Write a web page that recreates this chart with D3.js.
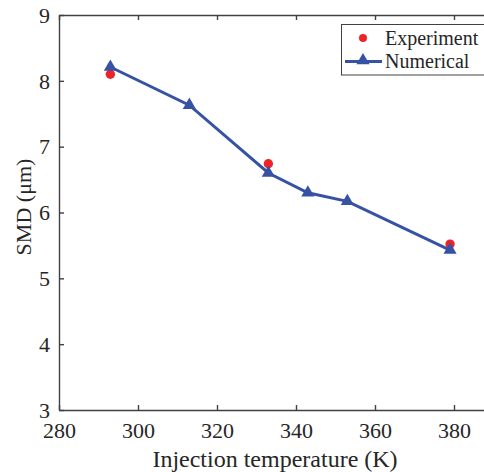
<!DOCTYPE html>
<html>
<head>
<meta charset="utf-8">
<script src="https://cdn.jsdelivr.net/npm/d3@7"></script>
<style>
  html, body { margin: 0; padding: 0; background: #fff; }
  svg { display: block; }
</style>
</head>
<body>
<div id="chart"></div>
<script>
// Sauter mean diameter vs. injection temperature
const expTemp = [293, 333, 379];
const expSMD = [8.1, 6.74, 5.52];
const numTemp = [293, 313, 333, 343, 353, 379];
const numSMD = [8.21, 7.63, 6.6, 6.3, 6.17, 5.43];
const xTicks = [280, 300, 320, 340, 360, 380];
const yTicks = [3, 4, 5, 6, 7, 8, 9];

const W = 484, H = 472;
const plotLeft = 59, plotTop = 15, plotBottom = 410, plotRight = 533;
const serif = "'Liberation Serif', 'Times New Roman', Times, serif";
const ink = "#262626";

const svg = d3.select("#chart").append("svg").attr("width", W).attr("height", H)
  .style("font-family", serif);

const x = d3.scaleLinear().domain([280, 400]).range([plotLeft, plotRight]);
const y = d3.scaleLinear().domain([3, 9]).range([plotBottom, plotTop]);

const axisColor = "#404040";

// bottom, top and left axes
const gx = svg.append("g").attr("transform", `translate(0,${plotBottom})`)
  .call(d3.axisBottom(x).tickValues(xTicks).tickFormat(d3.format("d"))
    .tickSizeInner(-5).tickSizeOuter(0));
const gxTop = svg.append("g").attr("transform", `translate(0,${plotTop})`)
  .call(d3.axisTop(x).tickValues(xTicks).tickSizeInner(-5).tickSizeOuter(0).tickFormat(""));
const gy = svg.append("g").attr("transform", `translate(${plotLeft},0)`)
  .call(d3.axisLeft(y).tickValues(yTicks).tickFormat(d3.format("d"))
    .tickSizeInner(-5).tickSizeOuter(0).tickPadding(9));

[gx, gxTop, gy].forEach(g => {
  g.attr("font-family", null).attr("font-size", null);
  g.select(".domain").attr("stroke", axisColor).attr("stroke-width", 1.4);
  g.selectAll(".tick line").attr("stroke", axisColor).attr("stroke-width", 1.4);
  g.selectAll(".tick text").style("font-family", serif)
    .style("font-size", "22px").attr("fill", ink);
});
gx.selectAll(".tick text").attr("y", 28).attr("dy", 0);
gy.selectAll(".tick text").attr("dy", "0.33em");

// axis titles
svg.append("text").attr("x", 275).attr("y", 467).attr("text-anchor", "middle")
  .style("font-family", serif).style("font-size", "24px").attr("fill", ink)
  .text("Injection temperature (K)");
svg.append("text").attr("transform", `translate(31,207) rotate(-90)`)
  .attr("text-anchor", "middle").style("font-family", serif).style("font-size", "22px")
  .attr("fill", ink).text("SMD (μm)");

const blue = "#3552a5", red = "#ee2229";

// numerical line
svg.append("path")
  .datum(numTemp.map((t, i) => [t, numSMD[i]]))
  .attr("fill", "none").attr("stroke", blue).attr("stroke-width", 3)
  .attr("d", d3.line().x(d => x(d[0])).y(d => y(d[1])));

// experiment points
svg.selectAll(".exp").data(expTemp).enter().append("circle")
  .attr("cx", d => x(d)).attr("cy", (d, i) => y(expSMD[i])).attr("r", 4.7).attr("fill", red);

// numerical markers
const tri = d3.symbol().type(d3.symbolTriangle).size(75);
svg.selectAll(".num").data(numTemp).enter().append("path")
  .attr("d", tri)
  .attr("transform", (d, i) => `translate(${x(d)},${y(numSMD[i])})`)
  .attr("fill", blue);

// legend
const lg = svg.append("g");
lg.append("rect").attr("x", 341.5).attr("y", 24.5).attr("width", 160).attr("height", 50.5)
  .attr("fill", "#fff").attr("stroke", axisColor).attr("stroke-width", 1);
lg.append("circle").attr("cx", 363).attr("cy", 38).attr("r", 4).attr("fill", red);
lg.append("line").attr("x1", 345).attr("x2", 382).attr("y1", 61.5).attr("y2", 61.5)
  .attr("stroke", blue).attr("stroke-width", 3);
lg.append("path").attr("d", tri).attr("transform", "translate(363,60.5)").attr("fill", blue);
lg.append("text").attr("x", 385).attr("y", 45).style("font-family", serif)
  .style("font-size", "20px").attr("fill", ink).text("Experiment");
lg.append("text").attr("x", 385).attr("y", 68).style("font-family", serif)
  .style("font-size", "20px").attr("fill", ink).text("Numerical");
</script>
</body>
</html>
